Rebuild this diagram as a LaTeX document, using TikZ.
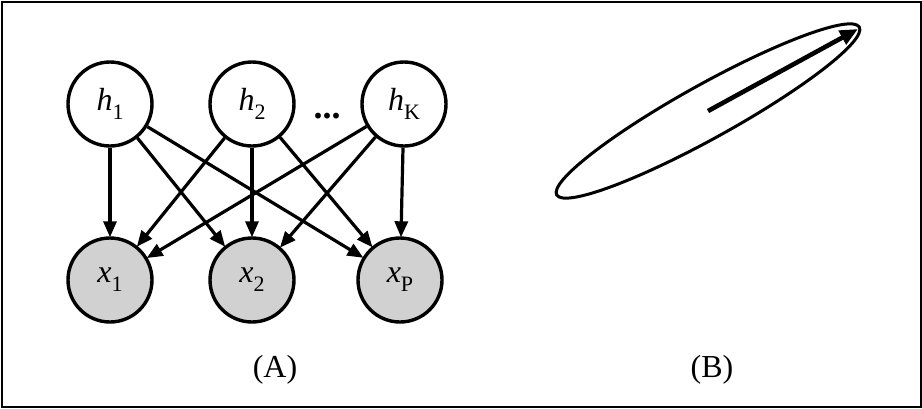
\documentclass[tikz,border=0pt]{standalone}
\usepackage{fontspec}
\setmainfont{Liberation Serif}
\usetikzlibrary{arrows.meta}
\newcommand{\var}[2]{\textit{#1}\raisebox{-0.28em}{\fontsize{22}{22}\selectfont #2}}

\begin{document}
\begin{tikzpicture}[x=1pt,y=-1pt,>={Triangle[length=16pt,width=13pt]},
  font=\fontsize{32}{36}\selectfont,
  hid/.style={circle,draw,line width=3.4pt,minimum size=84pt,inner sep=0pt,fill=white},
  obs/.style={hid,fill=black!18},
  edge/.style={->,line width=3.2pt,shorten >=-1pt}]
\useasboundingbox (0,0) rectangle (922,408);
\draw[line width=2pt] (1.5,1.5) rectangle (920.5,406.5);
% (A)
\node[hid] (h1) at (110,104) {\var{h}{1}};
\node[hid] (h2) at (252,104) {\var{h}{2}};
\node[hid] (hK) at (404,104) {\var{h}{K}};
\node[obs] (x1) at (110,280) {\var{x}{1}};
\node[obs] (x2) at (252,280) {\var{x}{2}};
\node[obs] (xP) at (400,280) {\var{x}{P}};
\node[font=\fontsize{36}{36}\selectfont] (dots) at (327,116) {\textbf{...}};
\foreach \h in {h1,h2,hK}
  \foreach \x in {x1,x2,xP}
    \draw[edge] (\h) -- (\x);
\node (labA) at (275,370) {(A)};
% (B)
\coordinate (c) at (708,111);
\coordinate (tip) at (858,29);
\draw[line width=3pt,rotate around={29:(c)}] (c) ellipse [x radius=173,y radius=27];
\draw[->,line width=4.6pt,>={Triangle[length=18pt,width=15pt]}] (c) -- (tip);
\node (labB) at (712,370) {(B)};
\end{tikzpicture}
\end{document}
